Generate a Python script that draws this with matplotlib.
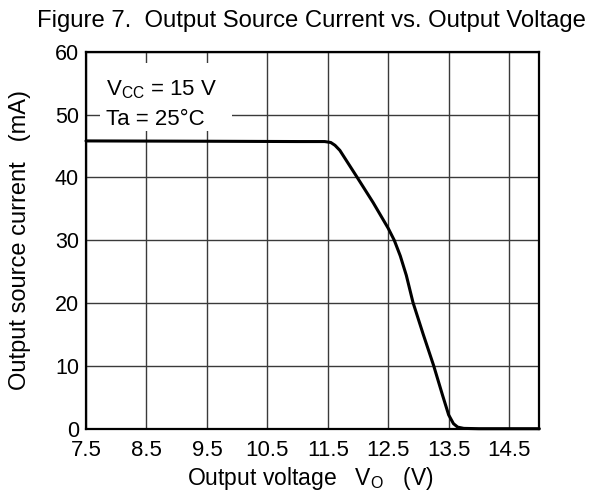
import matplotlib
matplotlib.use("Agg")
import matplotlib.pyplot as plt
from matplotlib.patches import Rectangle

plt.rcParams['font.family'] = ['Liberation Sans', 'DejaVu Sans']
plt.rcParams['mathtext.fontset'] = 'custom'
plt.rcParams['mathtext.rm'] = 'Liberation Sans'
plt.rcParams['mathtext.it'] = 'Liberation Sans'

voltage = [7.5, 9.5, 11.0, 11.45, 11.55, 11.62, 11.7, 11.8, 11.98, 12.25, 12.5,
           12.6, 12.7, 12.8, 12.91, 13.08, 13.25, 13.4, 13.5, 13.58, 13.65,
           13.75, 14.0, 15.0]
current = [45.8, 45.75, 45.7, 45.7, 45.55, 45.1, 44.3, 42.8, 40.1, 36.0, 31.9,
           30.0, 27.5, 24.4, 20.1, 15.0, 10.1, 5.3, 2.2, 0.8, 0.25,
           0.05, 0.0, 0.0]

xticks = [7.5, 8.5, 9.5, 10.5, 11.5, 12.5, 13.5, 14.5]
yticks = [0, 10, 20, 30, 40, 50, 60]

W, H = 593, 501
fig = plt.figure(figsize=(W / 100, H / 100), dpi=100)
ax = fig.add_axes([86 / W, 1 - 428.7 / H, (539.3 - 86) / W, (428.7 - 51.7) / H])

ax.set_xlim(7.5, 15)
ax.set_ylim(0, 60)
ax.set_xticks(xticks)
ax.set_xticklabels([str(t) for t in xticks])
ax.set_yticks(yticks)
ax.grid(True, color='#3a3a3a', linewidth=1.0)
ax.set_axisbelow(True)
ax.tick_params(length=0, labelsize=16, colors='black')
ax.tick_params(axis='x', pad=8)
ax.tick_params(axis='y', pad=5, labelsize=15.5)
for s in ax.spines.values():
    s.set_linewidth(1.6)
    s.set_color('black')

ax.plot(voltage, current, color='black', linewidth=2.2, solid_capstyle='round',
        solid_joinstyle='round', zorder=3, clip_on=False)

# white box behind annotation
ax.add_patch(Rectangle((7.73, 47.4), 2.18, 10.8, transform=ax.transData,
                       facecolor='white', edgecolor='none', zorder=2))
ax.text(7.83, 53.1, r'V$_{\mathrm{CC}}$ = 15 V', fontsize=16, zorder=4, va='baseline')
ax.text(7.83, 48.3, 'Ta = 25°C', fontsize=16, zorder=4, va='baseline')

fig.text(310.7 / W, 1 - 485 / H, r'Output voltage   V$_{\mathrm{O}}$   (V)',
         ha='center', va='baseline', fontsize=16.5)
fig.text(20 / W, 1 - 240 / H, 'Output source current   (mA)', rotation=90,
         ha='center', va='center', fontsize=17)

fig.text(311.5 / W, 1 - 26.7 / H, 'Figure 7.  Output Source Current vs. Output Voltage',
         ha='center', va='baseline', fontsize=17.2)

fig.savefig('out.png', dpi=100)
